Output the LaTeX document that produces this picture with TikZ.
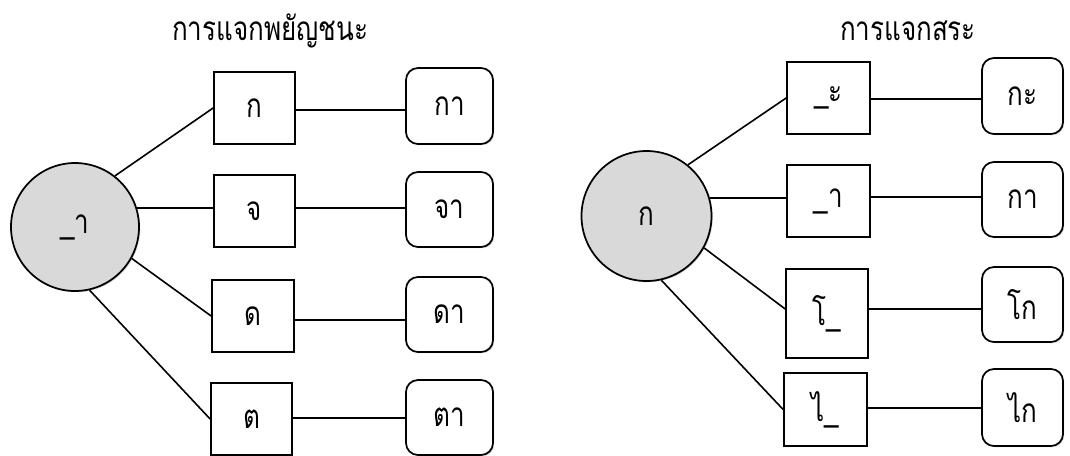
\documentclass[tikz,border=0pt]{standalone}
\usepackage{fontspec}
\newfontfamily\thaifont[Script=Thai,FakeStretch=0.78]{Loma}
\usetikzlibrary{shadows,calc}
\begin{document}
\begin{tikzpicture}[x=0.75pt,y=-0.75pt,
  every node/.style={font=\thaifont\fontsize{25}{28}\selectfont, inner sep=0pt},
  sq/.style={draw=black, line width=1.3pt, fill=white, rectangle,
    drop shadow={shadow xshift=0.9pt, shadow yshift=-0.9pt, opacity=0.3, fill=black!60}},
  rb/.style={sq, rounded corners=9pt},
  hub/.style={draw=black, line width=1.3pt, circle, fill=black!15, minimum size=96pt,
    drop shadow={shadow xshift=0.9pt, shadow yshift=-0.9pt, opacity=0.3, fill=black!60}},
  link/.style={line width=1.2pt, draw=black}]
\useasboundingbox (0,0) rectangle (1070,455);
% left panel
\node (t1) at (270,31) {การแจกพยัญชนะ};
\node[hub] (cl) at (75,227) {\_า};
\node[sq, minimum width=60.75pt, minimum height=54pt] (b1) at (254.5,108) {ก};
\node[rb, minimum width=65.25pt, minimum height=57pt] (r1) at (449.5,106) {กา};
\node[sq, minimum width=60.75pt, minimum height=54pt] (b2) at (254.5,211) {จ};
\node[rb, minimum width=65.25pt, minimum height=56.25pt] (r2) at (449.5,209.5) {จา};
\node[sq, minimum width=61.5pt, minimum height=54pt] (b3) at (253,316) {ด};
\node[rb, minimum width=65.25pt, minimum height=56.25pt] (r3) at (449.5,314.5) {ดา};
\node[sq, minimum width=60.75pt, minimum height=54pt] (b4) at (251.5,419) {ต};
\node[rb, minimum width=65.25pt, minimum height=56.25pt] (r4) at (449.5,417.5) {ตา};
\draw[link] (cl.52) -- (b1.west);
\draw[link] (cl.17) -- (cl.17 -| b2.west);
\draw[link] (cl.-29) -- (b3.west);
\draw[link] (cl.-77) -- (b4.west);
\draw[link] ([yshift=-1.5pt]b1.east) -- ([yshift=-1.5pt]b1.east -| r1.west);
\draw[link] ([yshift=2.2pt]b2.east) -- ([yshift=2.2pt]b2.east -| r2.west);
\draw[link] ([yshift=-3pt]b3.east) -- ([yshift=-3pt]b3.east -| r3.west);
\draw[link] ([yshift=0.75pt]b4.east) -- ([yshift=0.75pt]b4.east -| r4.west);
% right panel
\node (t2) at (908,31) {การแจกสระ};
\node[hub, minimum size=97.5pt] (cr) at (646.5,216) {ก};
\node[sq, minimum width=62.25pt, minimum height=54pt] (b5) at (828.5,98) {\_ะ};
\node[rb, minimum width=60.75pt, minimum height=57pt] (r5) at (1022.5,96) {กะ};
\node[sq, minimum width=62.25pt, minimum height=54pt] (b6) at (828.5,201) {\_า};
\node[rb, minimum width=60.75pt, minimum height=56.25pt] (r6) at (1022.5,199.5) {กา};
\node[sq, minimum width=61.5pt, minimum height=66.75pt] (b7) at (827,313.5) {โ\_};
\node[rb, minimum width=60.75pt, minimum height=56.25pt] (r7) at (1022.5,304.5) {โก};
\node[sq, minimum width=62.25pt, minimum height=54.75pt] (b8) at (825.5,409.5) {ไ\_};
\node[rb, minimum width=60.75pt, minimum height=57.75pt] (r8) at (1022.5,407.5) {ไก};
\draw[link] (cr.51) -- (b5.west);
\draw[link] (cr.16) -- (cr.16 -| b6.west);
\draw[link] (cr.-29) -- ([yshift=3.4pt]b7.west);
\draw[link] (cr.-77) -- (b8.west);
\draw[link] ([yshift=-0.75pt]b5.east) -- ([yshift=-0.75pt]b5.east -| r5.west);
\draw[link] ([yshift=3pt]b6.east) -- ([yshift=3pt]b6.east -| r6.west);
\draw[link] ([yshift=3.4pt]b7.east) -- ([yshift=3.4pt]b7.east -| r7.west);
\draw[link] ([yshift=1.1pt]b8.east) -- ([yshift=1.1pt]b8.east -| r8.west);
\end{tikzpicture}
\end{document}
